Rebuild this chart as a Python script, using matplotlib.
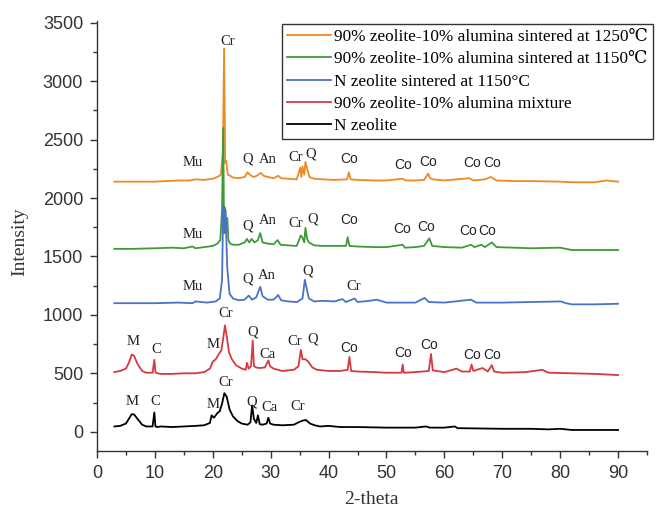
import matplotlib
matplotlib.use("Agg")
import matplotlib.pyplot as plt
from matplotlib.ticker import MultipleLocator

# ---------------- data (2-theta, intensity) ----------------
orange_pts = [(3, 2140), (6, 2140), (10, 2140), (12, 2145), (14, 2150), (16, 2150), (17, 2160),
              (18.5, 2155), (20, 2165), (20.8, 2180), (21.4, 2200), (21.75, 2400), (21.95, 3280),
              (22.15, 2300), (22.3, 2320), (22.6, 2200), (23.0, 2190), (23.5, 2175), (24.5, 2170),
              (25.5, 2180), (26.0, 2220), (26.4, 2200), (27.0, 2180), (27.6, 2190), (28.3, 2215),
              (28.8, 2190), (29.5, 2180), (30.5, 2170), (31.3, 2190), (31.8, 2170), (33, 2165),
              (34.5, 2160), (35.1, 2260), (35.3, 2180), (35.5, 2270), (35.8, 2200), (36.0, 2310),
              (36.3, 2250), (36.7, 2180), (37.5, 2165), (39, 2160), (41, 2155), (43.2, 2160),
              (43.5, 2220), (43.8, 2160), (45, 2155), (48, 2150), (50, 2150), (52.8, 2165),
              (53.3, 2150), (55, 2150), (56.5, 2155), (57.2, 2210), (57.5, 2170), (58, 2160),
              (60, 2150), (64.3, 2170), (65, 2150), (67, 2160), (68, 2180), (69, 2150), (72, 2145),
              (75, 2145), (80, 2140), (82, 2135), (86, 2135), (88, 2150), (90, 2140)]

green_pts = [(3, 1565), (6, 1565), (10, 1570), (13, 1575), (15, 1570), (16.5, 1585), (17, 1570),
             (18.5, 1580), (20, 1590), (20.8, 1610), (21.3, 1640), (21.6, 1900), (21.8, 2600),
             (21.95, 1700), (22.1, 1920), (22.3, 1700), (22.5, 1830), (22.7, 1640), (23.0, 1610),
             (23.5, 1600), (24.5, 1600), (25.5, 1620), (25.9, 1650), (26.3, 1620), (26.7, 1650),
             (27.2, 1620), (27.8, 1640), (28.2, 1700), (28.6, 1620), (29.5, 1610), (30.5, 1605),
             (31.2, 1640), (31.7, 1600), (33, 1595), (34.5, 1590), (35.2, 1680), (35.5, 1660),
             (35.8, 1620), (36.0, 1745), (36.3, 1650), (36.6, 1620), (37.5, 1595), (39, 1590),
             (41, 1590), (43.0, 1590), (43.3, 1665), (43.6, 1590), (45, 1585), (48, 1580),
             (50, 1580), (52.8, 1600), (53.2, 1575), (55, 1580), (56.5, 1590), (57.4, 1655),
             (57.9, 1590), (60, 1580), (63, 1575), (64.6, 1600), (65.2, 1580), (66.4, 1600),
             (67.0, 1580), (68.2, 1620), (69, 1580), (72, 1575), (75, 1570), (80, 1575),
             (82, 1555), (86, 1555), (90, 1555)]

blue_pts = [(3, 1100), (6, 1100), (10, 1100), (14, 1105), (16.5, 1100), (17, 1115), (19, 1105),
            (20.5, 1115), (21.2, 1140), (21.6, 1300), (21.8, 1930), (22.0, 1700), (22.2, 1900),
            (22.5, 1400), (22.9, 1180), (23.5, 1140), (24.5, 1125), (25.5, 1130), (26.2, 1165),
            (26.8, 1130), (27.5, 1150), (28.2, 1240), (28.6, 1160), (29.5, 1130), (30.5, 1130),
            (31.3, 1170), (31.8, 1125), (33, 1115), (34.5, 1110), (35.5, 1140), (35.9, 1300),
            (36.2, 1230), (36.6, 1140), (37.5, 1115), (39, 1120), (41, 1115), (42.4, 1135),
            (43, 1110), (44.5, 1140), (45, 1110), (47, 1120), (48.3, 1130), (50, 1105),
            (52, 1105), (55, 1105), (56.6, 1145), (57.3, 1110), (60, 1105), (64.6, 1130),
            (65.5, 1105), (70, 1105), (75, 1110), (80.1, 1115), (81, 1100), (82, 1090),
            (86, 1090), (90, 1095)]

red_pts = [(3, 510), (4, 520), (5, 540), (5.5, 590), (6.0, 660), (6.4, 650), (7.0, 580), (7.8, 520),
           (8.5, 505), (9.6, 505), (9.9, 615), (10.1, 510), (10.4, 500), (11, 495), (13, 495),
           (15, 500), (17, 500), (18.5, 510), (19.5, 540), (20.0, 600), (20.5, 620), (21.0, 660),
           (21.5, 700), (21.8, 800), (22.1, 910), (22.4, 820), (22.8, 680), (23.3, 620), (24, 570),
           (25, 540), (25.7, 530), (25.9, 590), (26.2, 540), (26.6, 560), (26.9, 780), (27.1, 560),
           (27.5, 550), (28, 545), (29, 550), (29.6, 610), (29.9, 560), (30.5, 540), (32, 520),
           (34, 530), (34.8, 560), (35.2, 700), (35.5, 620), (36.0, 620), (36.5, 600), (37.2, 550),
           (38, 530), (40, 520), (42, 520), (43.3, 530), (43.6, 640), (43.9, 520), (45, 515),
           (48, 510), (50, 505), (52.6, 505), (52.8, 575), (53.0, 505), (55, 510), (57.3, 520),
           (57.7, 665), (58.0, 525), (60, 510), (62.1, 540), (63, 515), (64.4, 515), (64.7, 575),
           (65, 520), (66.6, 545), (67.5, 515), (68.2, 570), (68.6, 515), (70, 505), (74, 510),
           (76.9, 530), (78, 505), (82, 500), (86, 495), (90, 485)]

black_pts = [(3, 45), (4, 50), (5, 70), (5.5, 110), (6.0, 150), (6.4, 148), (7.0, 110), (7.8, 60),
             (8.5, 45), (9.6, 45), (9.9, 165), (10.1, 45), (10.4, 40), (11, 45), (13, 40), (15, 45),
             (17, 50), (18.5, 55), (19.5, 75), (19.8, 140), (20.2, 120), (20.8, 160), (21.2, 175),
             (21.6, 240), (22.0, 330), (22.4, 300), (22.9, 190), (23.5, 130), (24.3, 90), (25, 70),
             (26, 60), (26.5, 80), (26.8, 225), (27.1, 110), (27.5, 75), (27.8, 140), (28.1, 65),
             (28.6, 60), (29.3, 70), (29.6, 120), (29.9, 70), (30.5, 60), (32, 55), (34, 60),
             (34.8, 80), (35.5, 95), (36.1, 100), (36.8, 70), (37.6, 55), (38.5, 45), (40, 50),
             (42, 40), (45, 40), (50, 35), (55, 35), (56.8, 45), (57.5, 35), (60, 35), (61.8, 45),
             (62.3, 30), (63, 30), (70, 25), (75, 25), (78, 20), (80, 25), (82, 15), (85, 15),
             (90, 15)]

series_labels = ["90% zeolite-10% alumina sintered at 1250\u2103",
                 "90% zeolite-10% alumina sintered at 1150\u2103",
                 "N zeolite sintered at 1150\u00b0C",
                 "90% zeolite-10% alumina mixture",
                 "N zeolite"]

# phase annotations: (text, 2-theta, intensity)
orange_ann = [("Mu", 16.6, 2300), ("Cr", 22.5, 3340), ("Q", 26.0, 2330), ("An", 29.5, 2330),
              ("Cr", 34.3, 2350), ("Q", 36.9, 2380), ("Co", 43.6, 2330), ("Co", 52.9, 2280),
              ("Co", 57.2, 2310), ("Co", 64.8, 2300), ("Co", 68.3, 2300)]
green_ann = [("Mu", 16.6, 1690), ("Q", 26.0, 1760), ("An", 29.5, 1810), ("Cr", 34.3, 1785),
             ("Q", 37.2, 1820), ("Co", 43.6, 1810), ("Co", 52.7, 1735), ("Co", 56.9, 1750),
             ("Co", 64.1, 1720), ("Co", 67.4, 1720)]
blue_ann = [("Mu", 16.6, 1240), ("Q", 26.0, 1305), ("An", 29.3, 1340), ("Q", 36.4, 1375),
            ("Cr", 44.3, 1240)]
red_ann = [("M", 6.2, 770), ("C", 10.2, 700), ("Cr", 22.2, 1015), ("M", 20.0, 745),
           ("Q", 26.9, 855), ("Ca", 29.5, 665), ("Cr", 34.2, 770), ("Q", 37.2, 795),
           ("Co", 43.6, 720), ("Co", 52.8, 675), ("Co", 57.3, 745), ("Co", 64.8, 655),
           ("Co", 68.3, 655)]
black_ann = [("M", 6.1, 255), ("C", 10.0, 255), ("Cr", 22.2, 420), ("M", 20.0, 230),
             ("Q", 26.7, 255), ("Ca", 29.8, 205), ("Cr", 34.7, 215)]

colors = ["#EE8A22", "#3E9A38", "#4A72C6", "#D6393F", "#000000"]

x_major = list(range(0, 100, 10))
y_major = list(range(0, 4000, 500))

# ---------------- figure ----------------
fig = plt.figure(figsize=(6.57, 5.16), dpi=100)
ax = fig.add_axes([97/657, 1 - 451/516, 550/657, 430/516])

all_pts = [orange_pts, green_pts, blue_pts, red_pts, black_pts]
lines = []
for pts, col, lab in zip(all_pts, colors, series_labels):
    xs = [p[0] for p in pts]
    ys = [p[1] for p in pts]
    ln, = ax.plot(xs, ys, color=col, lw=1.3, label=lab)
    lines.append(ln)

serif = "Liberation Serif"
sans = "Liberation Sans"
for anns in [orange_ann, green_ann, blue_ann, red_ann, black_ann]:
    for t, x, y in anns:
        fam = sans if t == "Co" else serif
        ax.text(x, y, t, ha="center", va="center", fontsize=10.5 if fam == serif else 10,
                family=fam, color="#222222")

ax.set_xlim(0, 95)
ax.set_ylim(-165, 3515)
ax.set_xticks(x_major)
ax.set_yticks(y_major)
ax.xaxis.set_minor_locator(MultipleLocator(5))
ax.yaxis.set_minor_locator(MultipleLocator(250))
ax.tick_params(which="major", direction="out", length=5, width=1, pad=5,
               labelsize=13, labelcolor="#333333", color="#333333")
ax.tick_params(which="minor", direction="out", length=3, width=1, color="#333333")
for lbl in ax.get_xticklabels() + ax.get_yticklabels():
    lbl.set_family(sans)

for s in ["top", "right"]:
    ax.spines[s].set_visible(False)
for s in ["left", "bottom"]:
    ax.spines[s].set_color("#333333")
    ax.spines[s].set_linewidth(1.0)

fig.text(20/657, 1 - 242/516, "Intensity", rotation=90, ha="center", va="center",
         family=serif, fontsize=14, color="#333333")
fig.text(371/657, 1 - 499/516, "2-theta", ha="center", va="center",
         family=serif, fontsize=14, color="#333333")

leg = ax.legend(handles=lines, loc="upper right", bbox_to_anchor=(653/657, 1 - 24/516),
                bbox_transform=fig.transFigure, borderaxespad=0, frameon=True, fancybox=False,
                framealpha=1, edgecolor="#333333",
                prop={"family": [serif, "DejaVu Serif", "DejaVu Sans"], "size": 12.4},
                handlelength=2.6, handletextpad=0.15, labelspacing=0.36, borderpad=0.3)
leg.get_frame().set_linewidth(1.0)

fig.savefig("out.png", dpi=100)
